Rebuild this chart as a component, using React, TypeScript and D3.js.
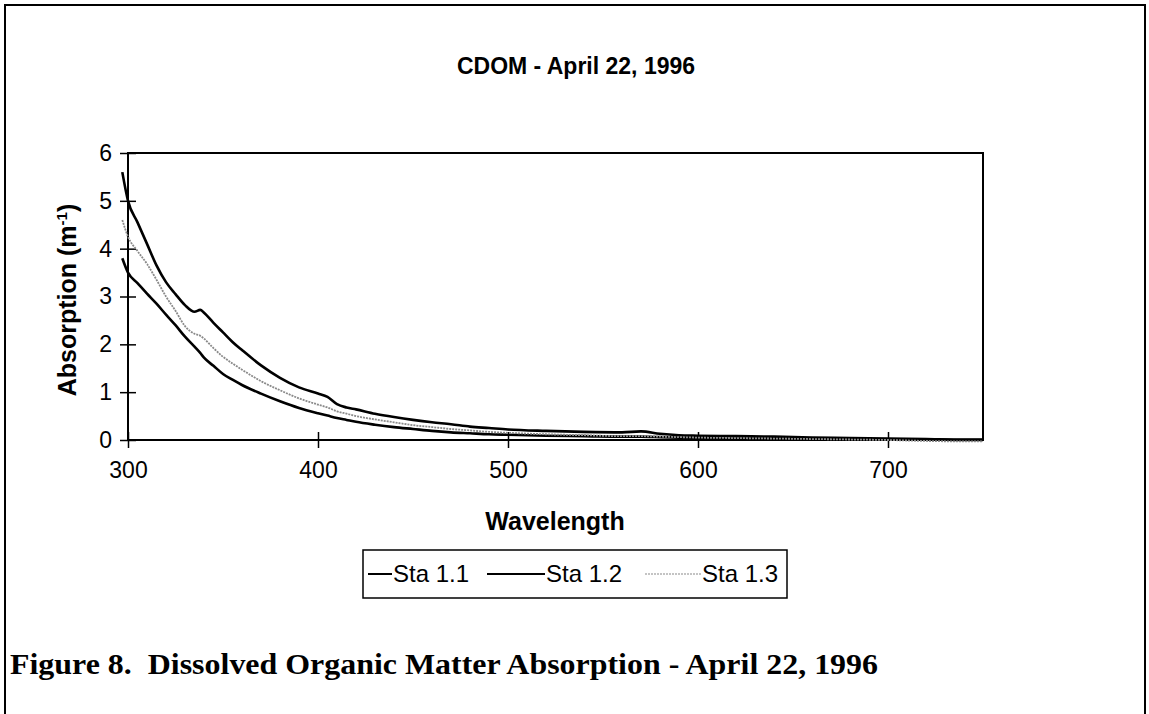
import React, { useEffect, useRef } from "react";
import * as d3 from "d3";

const wavelengths = [
  297, 300, 305, 310, 315, 320, 325, 330, 335, 338, 340, 345, 350, 355, 360, 370, 380, 390, 400,
  405, 410, 415, 420, 430, 440, 450, 460, 470, 480, 490, 500, 520, 540, 560, 570, 580, 590, 600,
  620, 640, 660, 680, 700, 720, 740, 750,
];

const sta11 = [
  3.8, 3.5, 3.28, 3.06, 2.85, 2.62, 2.4, 2.16, 1.95, 1.82, 1.72, 1.55, 1.38, 1.26, 1.15, 0.97, 0.81,
  0.67, 0.56, 0.51, 0.46, 0.42, 0.38, 0.32, 0.27, 0.23, 0.19, 0.16, 0.14, 0.12, 0.11, 0.09, 0.08,
  0.07, 0.07, 0.06, 0.05, 0.04, 0.03, 0.03, 0.02, 0.02, 0.01, 0.01, 0.0, 0.0,
];

const sta12 = [
  5.6, 5.0, 4.55, 4.1, 3.65, 3.3, 3.05, 2.82, 2.68, 2.72, 2.66, 2.45, 2.25, 2.05, 1.88, 1.56, 1.3,
  1.1, 0.97, 0.9, 0.75, 0.68, 0.64, 0.55, 0.48, 0.42, 0.37, 0.33, 0.28, 0.25, 0.22, 0.19, 0.17,
  0.16, 0.18, 0.13, 0.1, 0.09, 0.08, 0.07, 0.05, 0.04, 0.03, 0.02, 0.01, 0.01,
];

const sta13 = [
  4.6, 4.25, 3.95, 3.68, 3.35, 3.0, 2.7, 2.38, 2.22, 2.18, 2.12, 1.92, 1.74, 1.6, 1.47, 1.23, 1.04,
  0.87, 0.74, 0.68, 0.6, 0.55, 0.5, 0.43, 0.37, 0.31, 0.27, 0.23, 0.2, 0.17, 0.15, 0.12, 0.1, 0.08,
  0.08, 0.07, 0.06, 0.05, 0.04, 0.03, 0.02, 0.01, 0.0, -0.02, -0.03, -0.03,
];

const seriesNames = ["Sta 1.1", "Sta 1.2", "Sta 1.3"];
const xTicks = [300, 400, 500, 600, 700];
const yTicks = [0, 1, 2, 3, 4, 5, 6];

const App = () => {
  const svgRef = useRef(null);

  useEffect(() => {
    const width = 1149;
    const height = 714;
    const plot = { left: 128, right: 983, top: 153, bottom: 440 };

    const svg = d3.select(svgRef.current);
    svg.selectAll("*").remove();
    svg.attr("width", width).attr("height", height);

    svg.append("rect").attr("width", width).attr("height", height).attr("fill", "#fff");

    // outer page frame
    svg
      .append("path")
      .attr("d", `M5,${height} V5 H1145 V${height}`)
      .attr("fill", "none")
      .attr("stroke", "#000")
      .attr("stroke-width", 2);

    const x = d3.scaleLinear().domain([300, 750]).range([plot.left, plot.right]);
    const y = d3.scaleLinear().domain([0, 6]).range([plot.bottom, plot.top]);

    const sans = "'Liberation Sans', Arial, sans-serif";

    // title
    svg
      .append("text")
      .attr("x", 576)
      .attr("y", 74)
      .attr("text-anchor", "middle")
      .style("font-family", sans)
      .style("font-weight", "bold")
      .style("font-size", "23px")
      .text("CDOM - April 22, 1996");

    // plot frame
    svg
      .append("rect")
      .attr("x", plot.left)
      .attr("y", plot.top)
      .attr("width", plot.right - plot.left)
      .attr("height", plot.bottom - plot.top)
      .attr("fill", "none")
      .attr("stroke", "#000")
      .attr("stroke-width", 2);

    // y axis
    const yAxis = svg
      .append("g")
      .attr("transform", `translate(${plot.left},0)`)
      .call(
        d3.axisLeft(y).tickValues(yTicks).tickFormat(d3.format("d")).tickSize(8).tickPadding(8)
      );
    yAxis.select(".domain").remove();
    yAxis.selectAll(".tick line").attr("x1", 8).attr("stroke-width", 1.5);
    yAxis
      .selectAll("text")
      .style("font-family", sans)
      .style("font-size", "23px")
      .attr("fill", "#000");

    // x axis
    const xAxis = svg
      .append("g")
      .attr("transform", `translate(0,${plot.bottom})`)
      .call(d3.axisBottom(x).tickValues(xTicks).tickSize(8).tickPadding(14));
    xAxis.select(".domain").remove();
    xAxis.selectAll(".tick line").attr("y1", -8).attr("stroke-width", 1.5);
    xAxis
      .selectAll("text")
      .style("font-family", sans)
      .style("font-size", "23px")
      .attr("fill", "#000");

    // axis titles
    svg
      .append("text")
      .attr("x", 555)
      .attr("y", 530)
      .attr("text-anchor", "middle")
      .style("font-family", sans)
      .style("font-weight", "bold")
      .style("font-size", "25px")
      .text("Wavelength");

    const yLabel = svg
      .append("text")
      .attr("transform", `translate(76,300) rotate(-90)`)
      .attr("text-anchor", "middle")
      .style("font-family", sans)
      .style("font-weight", "bold")
      .style("font-size", "25px");
    yLabel.append("tspan").text("Absorption (m");
    yLabel.append("tspan").attr("dy", -9).style("font-size", "15px").text("-1");
    yLabel.append("tspan").attr("dy", 9).text(")");

    // series
    const series = [
      { name: seriesNames[0], values: sta11, color: "#000", w: 2.6, dash: null },
      { name: seriesNames[1], values: sta12, color: "#000", w: 2.6, dash: null },
      { name: seriesNames[2], values: sta13, color: "#8a8a8a", w: 1.8, dash: "2 1" },
    ];

    const line = d3
      .line<number>()
      .x((_, i) => x(wavelengths[i]))
      .y((d) => y(d))
      .curve(d3.curveMonotoneX);

    series.forEach((s) => {
      svg
        .append("path")
        .datum(s.values)
        .attr("d", line)
        .attr("fill", "none")
        .attr("stroke", s.color)
        .attr("stroke-width", s.w)
        .attr("stroke-dasharray", s.dash);
    });

    // legend
    const legend = svg.append("g");
    legend
      .append("rect")
      .attr("x", 363)
      .attr("y", 550)
      .attr("width", 424)
      .attr("height", 48)
      .attr("fill", "#fff")
      .attr("stroke", "#000")
      .attr("stroke-width", 1.5);

    const legendX = [368, 487, 645];
    const legendLen = [24, 58, 56];
    series.forEach((s, i) => {
      legend
        .append("line")
        .attr("x1", legendX[i])
        .attr("x2", legendX[i] + legendLen[i])
        .attr("y1", 574)
        .attr("y2", 574)
        .attr("stroke", s.color)
        .attr("stroke-width", s.w - 0.6)
        .attr("stroke-dasharray", s.dash);
      legend
        .append("text")
        .attr("x", legendX[i] + legendLen[i] + 1)
        .attr("y", 582)
        .style("font-family", sans)
        .style("font-size", "24px")
        .text(s.name);
    });

    // figure caption
    svg
      .append("text")
      .attr("x", 10)
      .attr("y", 674)
      .attr("textLength", 868)
      .attr("lengthAdjust", "spacingAndGlyphs")
      .style("font-family", "'Liberation Serif', 'Times New Roman', serif")
      .style("font-weight", "bold")
      .style("font-size", "29px")
      .attr("xml:space", "preserve")
      .style("white-space", "pre")
      .text("Figure 8.  Dissolved Organic Matter Absorption - April 22, 1996");
  }, []);

  return (
    <div style={{ position: "absolute", left: 0, top: 0 }}>
      <svg ref={svgRef}></svg>
    </div>
  );
};

export default App;
